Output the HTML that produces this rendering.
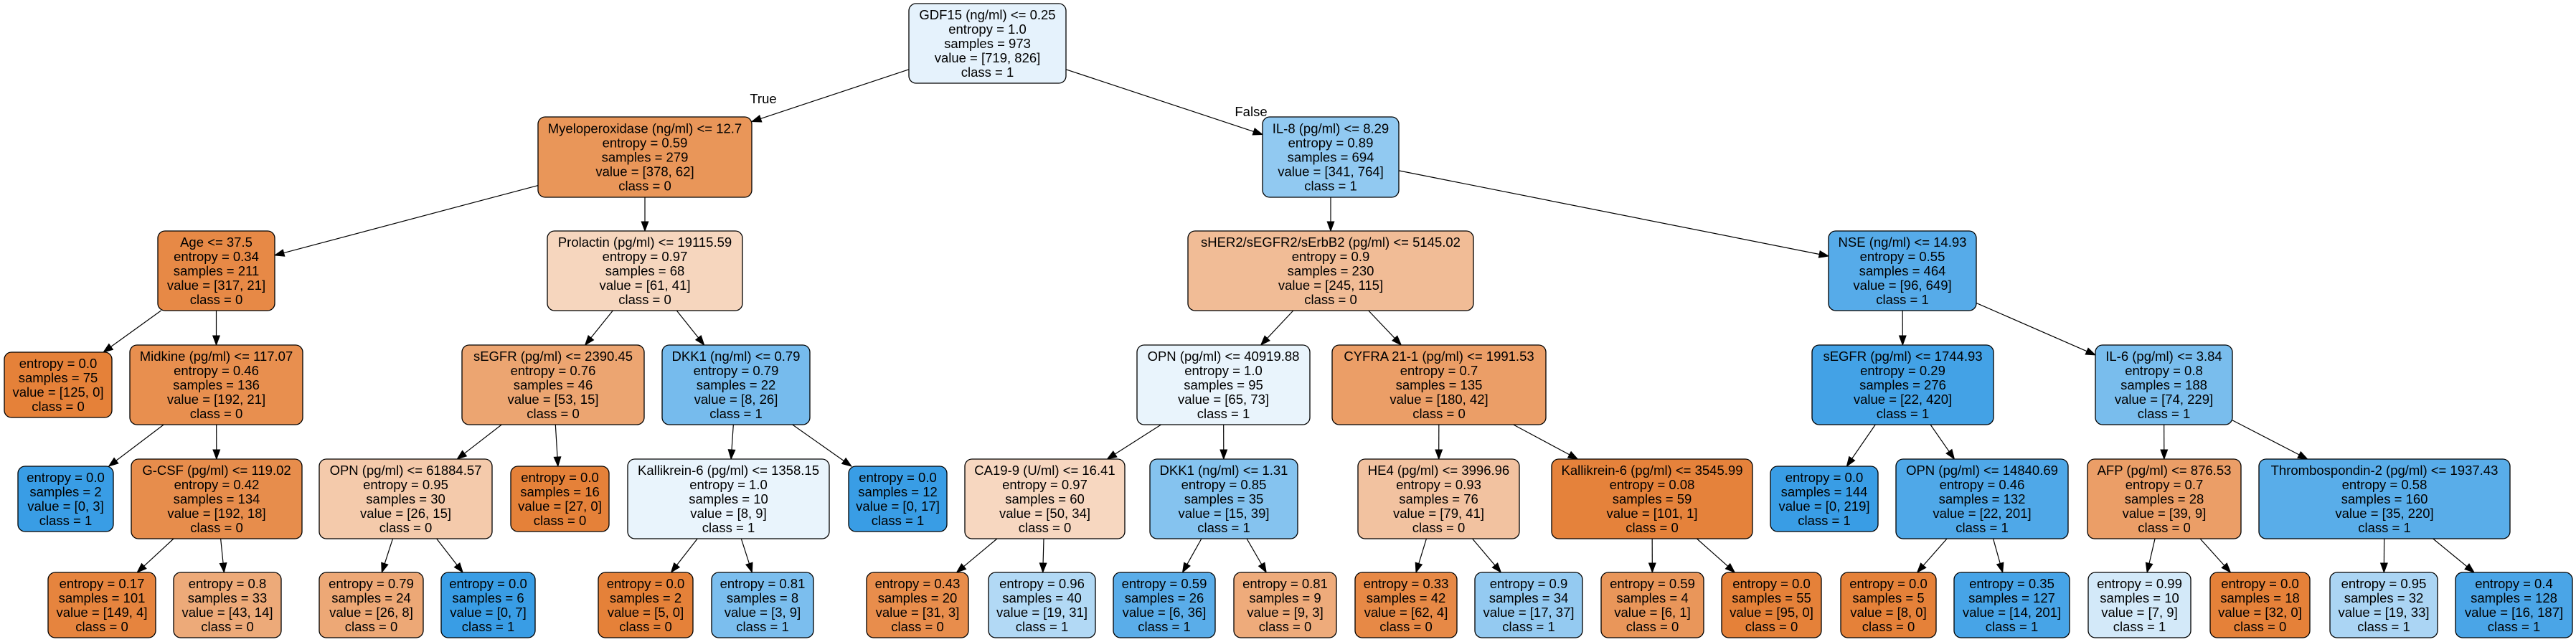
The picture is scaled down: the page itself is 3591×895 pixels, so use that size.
<!DOCTYPE html>
<html><head><meta charset="utf-8">
<style>
html,body{margin:0;padding:0;background:#fff;}
svg{display:block;}
text{font-family:"Liberation Sans",Arial,sans-serif;font-size:18.5px;fill:#000;}
</style></head>
<body>
<svg id="s" width="3591" height="895" xmlns="http://www.w3.org/2000/svg"></svg>
<script>
var N=[
[1267,1486,5,116,-1,"GDF15 (ng/ml) <= 0.25|entropy = 1.0|samples = 973|value = [719, 826]|class = 1"],
[750,1048,163,275,0,"Myeloperoxidase (ng/ml) <= 12.7|entropy = 0.59|samples = 279|value = [378, 62]|class = 0"],
[1760,1950,163,275,0,"IL-8 (pg/ml) <= 8.29|entropy = 0.89|samples = 694|value = [341, 764]|class = 1"],
[220,383,322,433,1,"Age <= 37.5|entropy = 0.34|samples = 211|value = [317, 21]|class = 0"],
[763,1035,322,433,1,"Prolactin (pg/ml) <= 19115.59|entropy = 0.97|samples = 68|value = [61, 41]|class = 0"],
[1656,2054,322,433,2,"sHER2/sEGFR2/sErbB2 (pg/ml) <= 5145.02|entropy = 0.9|samples = 230|value = [245, 115]|class = 0"],
[2549,2755,322,433,2,"NSE (ng/ml) <= 14.93|entropy = 0.55|samples = 464|value = [96, 649]|class = 1"],
[6,156,491,582,3,"entropy = 0.0|samples = 75|value = [125, 0]|class = 0"],
[181,422,481,592,3,"Midkine (pg/ml) <= 117.07|entropy = 0.46|samples = 136|value = [192, 21]|class = 0"],
[644,898,481,592,4,"sEGFR (pg/ml) <= 2390.45|entropy = 0.76|samples = 46|value = [53, 15]|class = 0"],
[923,1129,481,592,4,"DKK1 (ng/ml) <= 0.79|entropy = 0.79|samples = 22|value = [8, 26]|class = 1"],
[1585,1826,481,592,5,"OPN (pg/ml) <= 40919.88|entropy = 1.0|samples = 95|value = [65, 73]|class = 1"],
[1857,2155,481,592,5,"CYFRA 21-1 (pg/ml) <= 1991.53|entropy = 0.7|samples = 135|value = [180, 42]|class = 0"],
[2526,2779,481,592,6,"sEGFR (pg/ml) <= 1744.93|entropy = 0.29|samples = 276|value = [22, 420]|class = 1"],
[2921,3112,481,592,6,"IL-6 (pg/ml) <= 3.84|entropy = 0.8|samples = 188|value = [74, 229]|class = 1"],
[25,158,650,741,8,"entropy = 0.0|samples = 2|value = [0, 3]|class = 1"],
[183,421,640,751,8,"G-CSF (pg/ml) <= 119.02|entropy = 0.42|samples = 134|value = [192, 18]|class = 0"],
[445,686,640,751,9,"OPN (pg/ml) <= 61884.57|entropy = 0.95|samples = 30|value = [26, 15]|class = 0"],
[712,849,650,741,9,"entropy = 0.0|samples = 16|value = [27, 0]|class = 0"],
[875,1156,640,751,10,"Kallikrein-6 (pg/ml) <= 1358.15|entropy = 1.0|samples = 10|value = [8, 9]|class = 1"],
[1183,1320,650,741,10,"entropy = 0.0|samples = 12|value = [0, 17]|class = 1"],
[1345,1568,640,751,11,"CA19-9 (U/ml) <= 16.41|entropy = 0.97|samples = 60|value = [50, 34]|class = 0"],
[1603,1809,640,751,11,"DKK1 (ng/ml) <= 1.31|entropy = 0.85|samples = 35|value = [15, 39]|class = 1"],
[1893,2118,640,751,12,"HE4 (pg/ml) <= 3996.96|entropy = 0.93|samples = 76|value = [79, 41]|class = 0"],
[2163,2443,640,751,12,"Kallikrein-6 (pg/ml) <= 3545.99|entropy = 0.08|samples = 59|value = [101, 1]|class = 0"],
[2468,2618,650,741,13,"entropy = 0.0|samples = 144|value = [0, 219]|class = 1"],
[2643,2883,640,751,13,"OPN (pg/ml) <= 14840.69|entropy = 0.46|samples = 132|value = [22, 201]|class = 1"],
[2910,3124,640,751,14,"AFP (pg/ml) <= 876.53|entropy = 0.7|samples = 28|value = [39, 9]|class = 0"],
[3149,3499,640,751,14,"Thrombospondin-2 (pg/ml) <= 1937.43|entropy = 0.58|samples = 160|value = [35, 220]|class = 1"],
[67,217,798,889,16,"entropy = 0.17|samples = 101|value = [149, 4]|class = 0"],
[242,392,798,889,16,"entropy = 0.8|samples = 33|value = [43, 14]|class = 0"],
[445,590,798,889,17,"entropy = 0.79|samples = 24|value = [26, 8]|class = 0"],
[615,746,798,889,17,"entropy = 0.0|samples = 6|value = [0, 7]|class = 1"],
[834,966,798,889,19,"entropy = 0.0|samples = 2|value = [5, 0]|class = 0"],
[992,1134,798,889,19,"entropy = 0.81|samples = 8|value = [3, 9]|class = 1"],
[1208,1350,798,889,21,"entropy = 0.43|samples = 20|value = [31, 3]|class = 0"],
[1378,1527,798,889,21,"entropy = 0.96|samples = 40|value = [19, 31]|class = 1"],
[1552,1694,798,889,22,"entropy = 0.59|samples = 26|value = [6, 36]|class = 1"],
[1720,1863,798,889,22,"entropy = 0.81|samples = 9|value = [9, 3]|class = 0"],
[1889,2031,798,889,23,"entropy = 0.33|samples = 42|value = [62, 4]|class = 0"],
[2056,2206,798,889,23,"entropy = 0.9|samples = 34|value = [17, 37]|class = 1"],
[2232,2375,798,889,24,"entropy = 0.59|samples = 4|value = [6, 1]|class = 0"],
[2400,2539,798,889,24,"entropy = 0.0|samples = 55|value = [95, 0]|class = 0"],
[2566,2699,798,889,26,"entropy = 0.0|samples = 5|value = [8, 0]|class = 0"],
[2724,2885,798,889,26,"entropy = 0.35|samples = 127|value = [14, 201]|class = 1"],
[2911,3054,798,889,27,"entropy = 0.99|samples = 10|value = [7, 9]|class = 1"],
[3081,3220,798,889,27,"entropy = 0.0|samples = 18|value = [32, 0]|class = 0"],
[3248,3398,798,889,28,"entropy = 0.95|samples = 32|value = [19, 33]|class = 1"],
[3423,3586,798,889,28,"entropy = 0.4|samples = 128|value = [16, 187]|class = 1"]
];
var out=[];
function clip(r,cx,cy,dx,dy){ // exit t from center along (dx,dy)
  var hw=(r[1]-r[0])/2, hh=(r[3]-r[2])/2, t=1e9;
  if(dx!==0) t=Math.min(t,hw/Math.abs(dx));
  if(dy!==0) t=Math.min(t,hh/Math.abs(dy));
  return t;
}
N.forEach(function(n,i){
  if(n[4]<0) return;
  var p=N[n[4]];
  var px=(p[0]+p[1])/2, py=(p[2]+p[3])/2, cx=(n[0]+n[1])/2, cy=(n[2]+n[3])/2;
  var dx=cx-px, dy=cy-py, L=Math.hypot(dx,dy), ux=dx/L, uy=dy/L;
  var t1=clip(p,px,py,ux,uy), t2=clip(n,cx,cy,-ux,-uy);
  var sx=px+ux*t1, sy=py+uy*t1, ex=cx-ux*t2, ey=cy-uy*t2;
  var bx=ex-ux*13, by=ey-uy*13, nx=-uy*4.8, ny=ux*4.8;
  out.push('<line x1="'+sx+'" y1="'+sy+'" x2="'+bx+'" y2="'+by+'" stroke="#000" stroke-width="1.2"/>');
  out.push('<polygon points="'+ex+','+ey+' '+(bx+nx)+','+(by+ny)+' '+(bx-nx)+','+(by-ny)+'" fill="#000" stroke="#000" stroke-width="1"/>');
});
N.forEach(function(n){
  var lines=n[5].split('|');
  var m=n[5].match(/value = \[(\d+), (\d+)\]/), a=+m[1], b=+m[2];
  var base, al;
  if(a>=b){base=[229,129,57]; al=(a-b)/a;} else {base=[57,157,229]; al=(b-a)/b;}
  var c=base.map(function(v){return Math.round(al*v+(1-al)*255);});
  out.push('<rect x="'+n[0]+'" y="'+n[2]+'" width="'+(n[1]-n[0])+'" height="'+(n[3]-n[2])+'" rx="10" ry="10" fill="rgb('+c.join(',')+')" stroke="#000" stroke-width="1.3"/>');
  var cx=(n[0]+n[1])/2, cy=(n[2]+n[3])/2, k=lines.length;
  lines.forEach(function(l,j){
    var y=cy+(j-(k-1)/2)*20+6.5;
    out.push('<text x="'+cx+'" y="'+y+'" text-anchor="middle">'+l.replace(/&/g,'&amp;').replace(/</g,'&lt;')+'</text>');
  });
});
out.push('<text x="1064" y="144" text-anchor="middle">True</text>');
out.push('<text x="1744" y="162" text-anchor="middle">False</text>');
document.getElementById('s').innerHTML=out.join('');
</script>
</body></html>
